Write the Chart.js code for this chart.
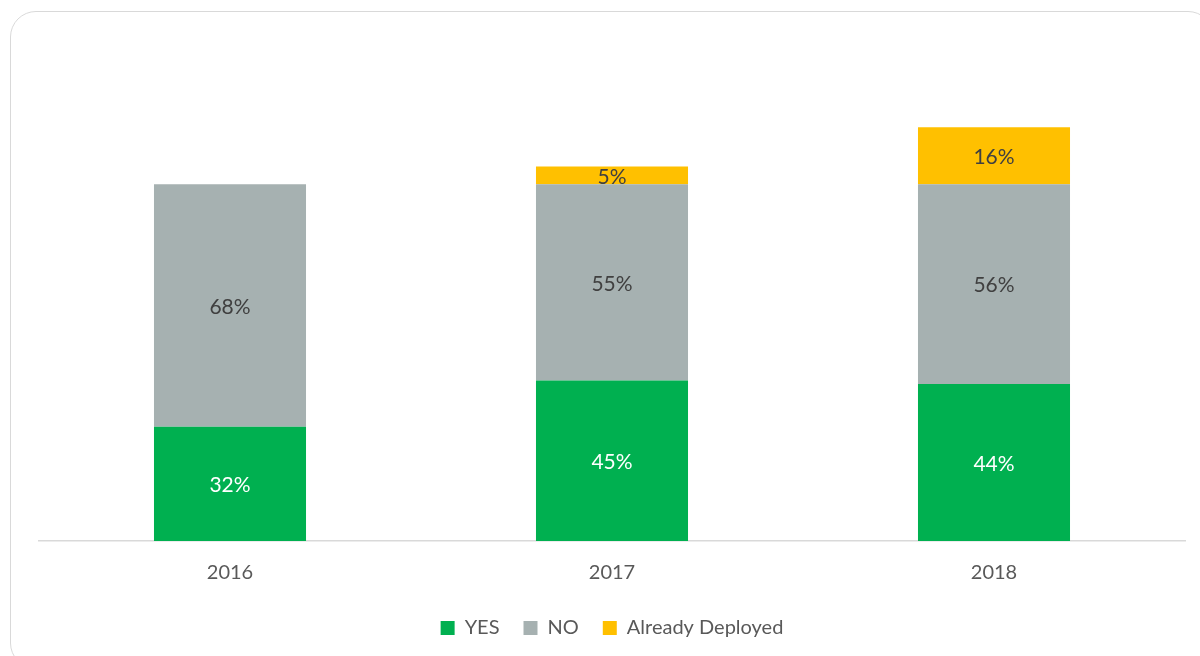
<!DOCTYPE html>
<html>
<head>
<meta charset="utf-8">
<script src="https://cdn.jsdelivr.net/npm/chart.js@4.4.0/dist/chart.umd.min.js"></script>
<style>
  html, body { margin: 0; padding: 0; background: #fff; overflow: hidden; }
  #wrap { position: relative; width: 1200px; height: 656px; }
  #c { position: absolute; left: 0; top: 0; }
  #frame { position: absolute; left: 10px; top: 11px; width: 1204px; height: 658px;
           border: 1.5px solid #d9d9d9; border-radius: 26px; box-sizing: border-box; pointer-events: none; }
</style>
</head>
<body>
<div id="wrap">
  <canvas id="c" width="1200" height="656"></canvas>
  <div id="frame"></div>
</div>
<script>
const categories = ['2016', '2017', '2018'];
const yesValues = [32, 45, 44];
const noValues = [68, 55, 56];
const deployedValues = [null, 5, 16];
const seriesNames = ['YES', 'NO', 'Already Deployed'];

const FONT = "Lato, 'Open Sans', sans-serif";

const labelPlugin = {
  id: 'barLabels',
  afterDatasetsDraw(chart) {
    const ctx = chart.ctx;
    ctx.save();
    ctx.font = '21px ' + FONT;
    ctx.textAlign = 'center';
    ctx.textBaseline = 'middle';
    chart.data.datasets.forEach((ds, di) => {
      const meta = chart.getDatasetMeta(di);
      meta.data.forEach((bar, i) => {
        const v = ds.data[i];
        if (v == null) return;
        const y = (bar.y + bar.base) / 2;
        ctx.fillStyle = di === 0 ? '#ffffff' : '#404040';
        ctx.fillText(v + '%', bar.x, y + 1.5);
      });
    });
    ctx.restore();
  }
};

new Chart(document.getElementById('c'), {
  type: 'bar',
  data: {
    labels: categories,
    datasets: [
      { label: seriesNames[0], data: yesValues, backgroundColor: '#00b050' },
      { label: seriesNames[1], data: noValues, backgroundColor: '#a6b1b1' },
      { label: seriesNames[2], data: deployedValues, backgroundColor: '#ffc000' }
    ]
  },
  options: {
    responsive: false,
    animation: false,
    devicePixelRatio: 1,
    layout: { padding: { top: 113, left: 39, right: 15, bottom: 8 } },
    datasets: { bar: { barPercentage: 1, categoryPercentage: 0.398 } },
    scales: {
      x: {
        stacked: true,
        grid: { display: false, drawTicks: false },
        border: { display: true, color: '#d9d9d9', width: 1.5 },
        ticks: { color: '#595959', font: { family: FONT, size: 20 }, padding: 20 },
        afterFit(scale) { scale.height -= 11; }
      },
      y: {
        stacked: true,
        display: false,
        min: 0,
        max: 120
      }
    },
    plugins: {
      legend: {
        position: 'bottom',
        labels: {
          color: '#595959',
          font: { family: FONT, size: 20 },
          boxWidth: 14,
          boxHeight: 14,
          padding: 24,
          useBorderRadius: false
        }
      },
      tooltip: { enabled: false }
    }
  },
  plugins: [labelPlugin]
});
</script>
</body>
</html>
